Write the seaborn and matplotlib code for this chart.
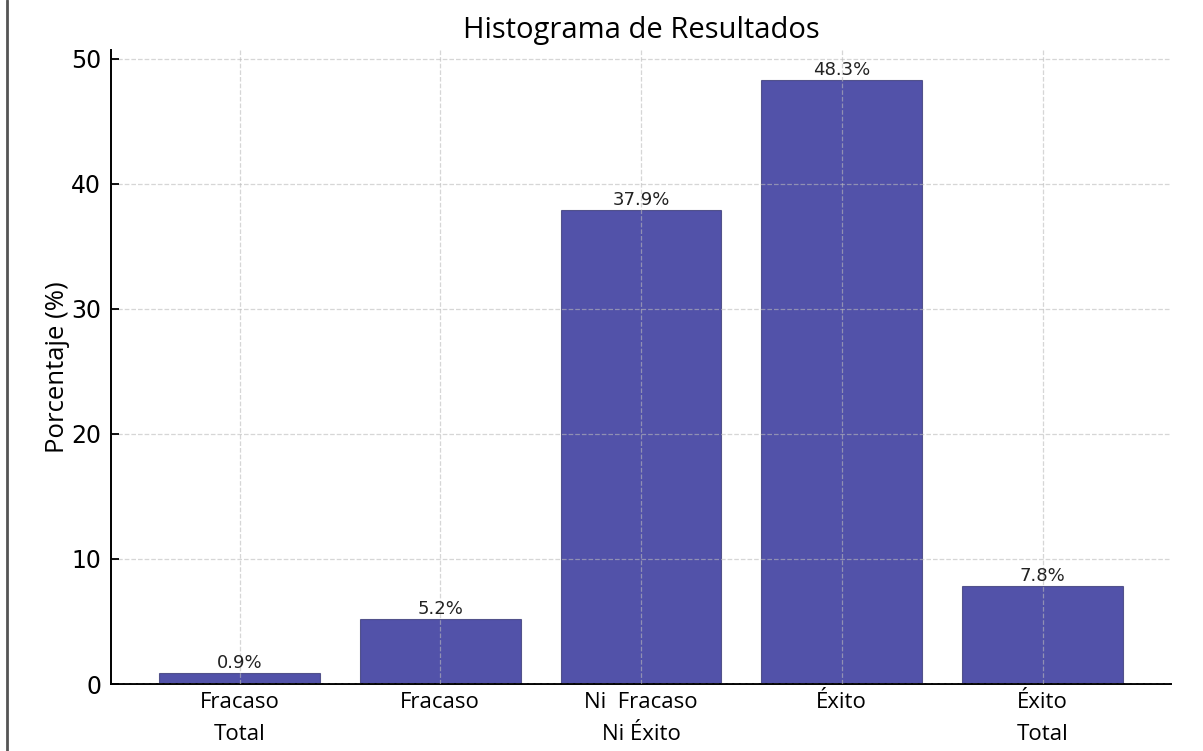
import seaborn as sns
import matplotlib.pyplot as plt
import pandas as pd
from matplotlib.lines import Line2D

categorias = ["Fracaso\nTotal", "Fracaso", "Ni  Fracaso\nNi Éxito", "Éxito", "Éxito\nTotal"]
porcentajes = [0.9, 5.2, 37.9, 48.3, 7.8]

df = pd.DataFrame({"categoria": categorias, "porcentaje": porcentajes})

sns.set_style("white")
plt.rcParams['font.family'] = ['Open Sans', 'DejaVu Sans']
plt.rcParams['text.color'] = 'black'
plt.rcParams['axes.labelcolor'] = 'black'
plt.rcParams['xtick.color'] = 'black'
plt.rcParams['ytick.color'] = 'black'

fig = plt.figure(figsize=(12.03, 7.51), dpi=100)
ax = fig.add_axes([0.0923, 0.0892, 0.8811, 0.8442])

sns.barplot(df, x="categoria", y="porcentaje", color="navy", alpha=0.68,
            edgecolor="#2a2a6a", linewidth=0.8, width=0.8, saturation=1, ax=ax)

for i, v in enumerate(porcentajes):
    ax.text(i, v + 0.1, f"{v}%", ha="center", va="bottom", fontsize=13,
            family="DejaVu Sans", color="#222222")

ax.set_xlim(-0.64, 4.64)
ax.set_ylim(0, 50.7)
ax.set_xticks(range(len(categorias)), categorias, linespacing=1.65)
ax.set_title("Histograma de Resultados", fontsize=21, pad=9, color="black")
ax.set_ylabel("Porcentaje (%)", fontsize=18.5, labelpad=1)
ax.set_xlabel("")
ax.tick_params(axis="x", labelsize=16, length=0, pad=6)
ax.tick_params(axis="y", labelsize=17, length=6, width=1.3, left=True,
               direction="in", pad=7)
for lab in ax.get_yticklabels():
    lab.set_family("DejaVu Sans")
ax.grid(True, linestyle="--", color="#bbbbbb", alpha=0.6, linewidth=0.9)
ax.set_axisbelow(False)
sns.despine(ax=ax)
ax.spines["left"].set_linewidth(1.4)
ax.spines["bottom"].set_linewidth(1.4)
ax.spines["left"].set_color("black")
ax.spines["bottom"].set_color("black")

fig.add_artist(Line2D([0.0062, 0.0062], [0, 1], transform=fig.transFigure,
                      color="#555555", linewidth=2))

fig.savefig("out.png", dpi=100)
